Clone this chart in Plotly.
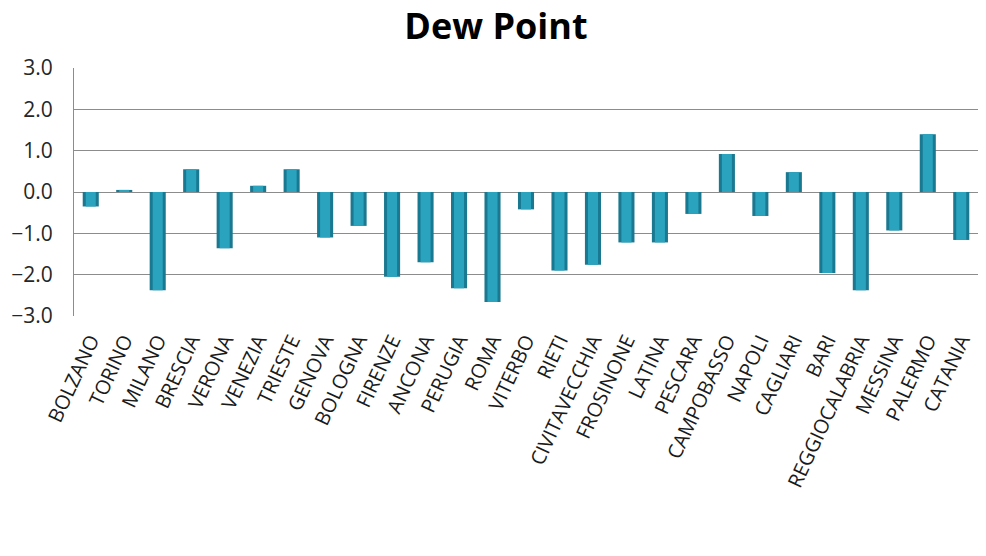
import plotly.graph_objects as go

# Stations and dew point anomalies
stations = [
    "BOLZANO", "TORINO", "MILANO", "BRESCIA", "VERONA", "VENEZIA", "TRIESTE",
    "GENOVA", "BOLOGNA", "FIRENZE", "ANCONA", "PERUGIA", "ROMA", "VITERBO",
    "RIETI", "CIVITAVECCHIA", "FROSINONE", "LATINA", "PESCARA", "CAMPOBASSO",
    "NAPOLI", "CAGLIARI", "BARI", "REGGIOCALABRIA", "MESSINA", "PALERMO", "CATANIA",
]
dew_point = [
    -0.35, 0.05, -2.38, 0.55, -1.36, 0.15, 0.55,
    -1.1, -0.82, -2.05, -1.7, -2.33, -2.66, -0.42,
    -1.9, -1.76, -1.22, -1.22, -0.53, 0.92,
    -0.58, 0.48, -1.96, -2.38, -0.93, 1.4, -1.16,
]
y_ticks = [-3.0, -2.0, -1.0, 0.0, 1.0, 2.0, 3.0]

fig = go.Figure()

# Outer darker body of each bar
fig.add_trace(go.Bar(
    x=stations, y=dew_point, width=0.48,
    marker=dict(color="#1a7890", line=dict(width=0)),
    hoverinfo="skip", showlegend=False,
))
# Lighter inner band for a rounded, cylinder-like look
fig.add_trace(go.Bar(
    x=stations, y=dew_point, width=0.3,
    marker=dict(color="#2aa3bf", line=dict(width=0)),
    showlegend=False,
))

fig.update_layout(
    width=986, height=556,
    barmode="overlay",
    paper_bgcolor="white", plot_bgcolor="white",
    margin=dict(l=74, r=8, t=68, b=240),
    title=dict(
        text="<b>Dew Point</b>", x=0.503, xanchor="center", y=0.953, yanchor="middle",
        font=dict(family="Open Sans", size=36, color="#000000"),
    ),
    font=dict(family="Open Sans", color="#222222"),
)

fig.update_yaxes(
    range=[-3.0, 3.0], tickvals=y_ticks, tickformat=".1f",
    showgrid=True, gridcolor="#8c8c8c", gridwidth=1,
    zeroline=False, showline=True, linecolor="#8c8c8c", linewidth=1,
    ticks="", ticklabelstandoff=16,
    tickfont=dict(family="Open Sans", size=21, color="#262626"),
)
fig.update_xaxes(
    tickangle=-65, showgrid=False, showline=False, zeroline=False,
    ticks="", ticklabelstandoff=8,
    tickfont=dict(family="Open Sans", size=20, color="#1a1a1a"),
)

fig.write_html("out.html")
